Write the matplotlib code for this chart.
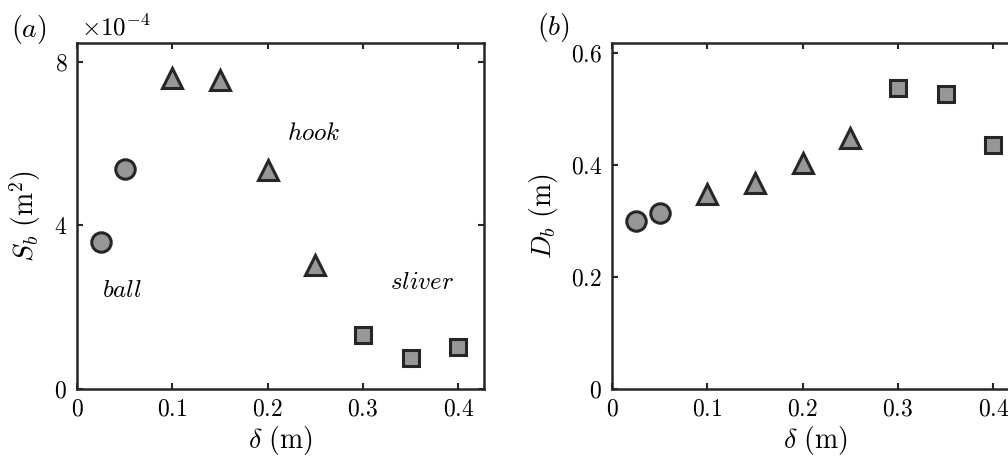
import numpy as np
import matplotlib
matplotlib.use('Agg')
import matplotlib.pyplot as plt

plt.rcParams['font.family'] = 'serif'
plt.rcParams['font.serif'] = ['cmr10', 'DejaVu Serif']
plt.rcParams['mathtext.fontset'] = 'cm'
plt.rcParams['axes.unicode_minus'] = False

# data
ball_d = [0.025, 0.05]
hook_d = [0.10, 0.15, 0.20, 0.25]
sliver_d = [0.30, 0.35, 0.40]

ball_S = [3.60, 5.38]          # x 1e-4 m^2
hook_S = [7.60, 7.55, 5.35, 3.03]
sliver_S = [1.32, 0.76, 1.03]

ball_D = [0.300, 0.314]        # m
hook_D = [0.348, 0.368, 0.404, 0.448]
sliver_D = [0.538, 0.527, 0.436]

xticks = [0, 0.1, 0.2, 0.3, 0.4]
yticks_a = [0, 4, 8]
yticks_b = [0, 0.2, 0.4, 0.6]

face = '#979797'
edge = '#262626'

fig = plt.figure(figsize=(10.08, 4.59), dpi=100)
ax1 = fig.add_axes([0.0764, 0.1525, 0.4038, 0.7538])
ax2 = fig.add_axes([0.6071, 0.1525, 0.4038, 0.7538])

def style(ax):
    for s in ax.spines.values():
        s.set_linewidth(1.8)
        s.set_color(edge)
    ax.tick_params(direction='in', length=4, width=1.5, color=edge,
                   top=True, right=True, labelsize=17, pad=7)
    ax.set_xlim(0, 0.427)
    ax.set_xticks(xticks)
    ax.set_xticklabels(['$%g$' % t for t in xticks])
    ax.set_xlabel(r'$\delta\ (\mathrm{m})$', fontsize=20, labelpad=2)

def draw(ax, yb, yh, ys):
    kw = dict(linestyle='none', markerfacecolor=face, markeredgecolor=edge,
              markeredgewidth=2.2, clip_on=False, zorder=3)
    ax.plot(ball_d, yb, marker='o', markersize=14, **kw)
    ax.plot(hook_d, yh, marker='^', markersize=15, **kw)
    ax.plot(sliver_d, ys, marker='s', markersize=11, **kw)

# (a)
draw(ax1, ball_S, hook_S, sliver_S)
style(ax1)
ax1.set_ylim(0, 8.46)
ax1.set_yticks(yticks_a)
ax1.set_yticklabels(['$%g$' % t for t in yticks_a])
ax1.set_ylabel(r'$S_b\ (\mathrm{m}^2)$', fontsize=20, labelpad=8)
ax1.text(0.047, 2.4, r'$ball$', fontsize=18, ha='center', va='center')
ax1.text(0.248, 6.23, r'$hook$', fontsize=18, ha='center', va='center')
ax1.text(0.362, 2.6, r'$sliver$', fontsize=18, ha='center', va='center')
fig.text(0.08, 0.94, r'$\times 10^{-4}$', fontsize=18, ha='left', va='center')
fig.text(0.011, 0.935, r'$(a)$', fontsize=20, ha='left', va='center')

# (b)
draw(ax2, ball_D, hook_D, sliver_D)
style(ax2)
ax2.set_ylim(0, 0.618)
ax2.set_yticks(yticks_b)
ax2.set_yticklabels(['$%g$' % t for t in yticks_b])
ax2.set_ylabel(r'$D_b\ (\mathrm{m})$', fontsize=20, labelpad=8)
fig.text(0.533, 0.94, r'$(b)$', fontsize=20, ha='left', va='center')

fig.savefig('out.png', dpi=100)
